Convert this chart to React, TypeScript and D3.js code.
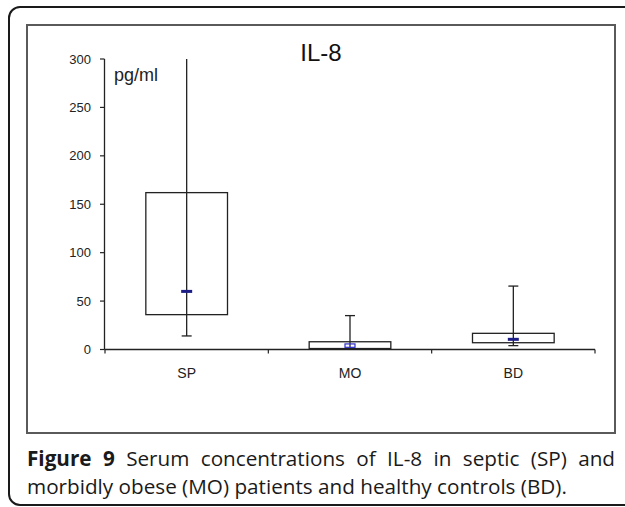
import React, { useEffect, useRef } from "react";
import * as d3 from "d3";

const categories = ["SP", "MO", "BD"];
const whiskerHigh = [300, 35, 65.5];
const boxHigh = [162, 8, 16.7];
const medians = [60, 4, 10.5];
const boxLow = [36, 1, 7];
const whiskerLow = [14, 0, 4];
const medianStyle = ["bar", "box", "bar"];
const yTicks = [0, 50, 100, 150, 200, 250, 300];
const chartTitle = "IL-8";
const unitLabel = "pg/ml";
const captionBold = "Figure 9";
const captionLine1 = " Serum concentrations of IL-8 in septic (SP) and";
const captionLine2 = "morbidly obese (MO) patients and healthy controls (BD).";

const W = 625;
const H = 507;
const axisFont = "'Liberation Sans', Arial, sans-serif";
const capFont = "'Open Sans', 'Noto Sans', sans-serif";

export default function App() {
  const l1 = useRef<SVGTextElement>(null);
  const l2 = useRef<SVGTextElement>(null);

  const y = d3.scaleLinear().domain([0, 300]).range([349.5, 59]);
  const x = d3.scaleBand<string>().domain(categories).range([105, 595]).padding(0);
  const bw = x.bandwidth();
  const boxW = bw * 0.5;
  const capW = 10;

  useEffect(() => {
    const t1 = l1.current;
    const t2 = l2.current;
    if (!t1 || !t2) return;
    const target2 = 540;
    const base = 17;
    t1.setAttribute("font-size", String(base));
    t2.setAttribute("font-size", String(base));
    const w2 = t2.getComputedTextLength();
    const fs = base * target2 / w2;
    t1.setAttribute("font-size", String(fs));
    t2.setAttribute("font-size", String(fs));
    t1.setAttribute("word-spacing", "0");
    const w1 = t1.getComputedTextLength();
    const spaces = (captionBold + captionLine1).split(" ").length - 1;
    const ws = (588 - w1) / spaces;
    t1.setAttribute("word-spacing", String(ws));
  }, []);

  return (
    <svg
      width={W}
      height={H}
      style={{ position: "absolute", left: 0, top: 0, background: "#fff" }}
    >
      <rect x={9} y={7} width={700} height={498} rx={11} ry={11} fill="#fff" stroke="#1a1a1a" strokeWidth={2} />
      <rect x={27} y={25} width={588} height={408} fill="#fff" stroke="#5a5a5a" strokeWidth={2} />

      <text x={321} y={60.5} textAnchor="middle" fontFamily={axisFont} fontSize={24} fill="#111">
        {chartTitle}
      </text>
      <text x={114} y={81} fontFamily={axisFont} fontSize={18} fill="#222">
        {unitLabel}
      </text>

      {/* y axis */}
      <line x1={104.5} x2={104.5} y1={y(300)} y2={y(0)} stroke="#222" strokeWidth={1.3} />
      {yTicks.map((t) => (
        <g key={t}>
          <line x1={100} x2={104.5} y1={y(t)} y2={y(t)} stroke="#222" strokeWidth={1.2} />
          <text x={91} y={y(t) + 4.5} textAnchor="end" fontFamily={axisFont} fontSize={13} fill="#222">
            {t}
          </text>
        </g>
      ))}

      {/* x axis */}
      <line x1={104.5} x2={595} y1={y(0)} y2={y(0)} stroke="#222" strokeWidth={1.3} />
      {[...categories.map((c) => x(c)!), 595].map((px, i) => (
        <line key={i} x1={px} x2={px} y1={y(0)} y2={y(0) + 4} stroke="#222" strokeWidth={1.2} />
      ))}
      {categories.map((c) => (
        <text
          key={c}
          x={x(c)! + bw / 2}
          y={378}
          textAnchor="middle"
          fontFamily={axisFont}
          fontSize={14}
          fill="#222"
        >
          {c}
        </text>
      ))}

      {/* boxes */}
      {categories.map((c, i) => {
        const cx = x(c)! + bw / 2;
        return (
          <g key={c}>
            <rect
              x={cx - boxW / 2}
              y={y(boxHigh[i])}
              width={boxW}
              height={y(boxLow[i]) - y(boxHigh[i])}
              fill="none"
              stroke="#222"
              strokeWidth={1.3}
            />
            <line x1={cx} x2={cx} y1={y(whiskerHigh[i])} y2={y(whiskerLow[i])} stroke="#222" strokeWidth={1.3} />
            {whiskerHigh[i] < 300 && (
              <line x1={cx - capW / 2} x2={cx + capW / 2} y1={y(whiskerHigh[i])} y2={y(whiskerHigh[i])} stroke="#222" strokeWidth={1.3} />
            )}
            {whiskerLow[i] > 0 && (
              <line x1={cx - capW / 2} x2={cx + capW / 2} y1={y(whiskerLow[i])} y2={y(whiskerLow[i])} stroke="#222" strokeWidth={1.3} />
            )}
            {medianStyle[i] === "bar" ? (
              <rect x={cx - 5.5} y={y(medians[i]) - 1.5} width={11} height={3} fill="#1c1c86" />
            ) : (
              <rect x={cx - 5} y={y(medians[i]) - 1.7} width={10} height={3.4} fill="none" stroke="#2f2fc8" strokeWidth={1.2} />
            )}
          </g>
        );
      })}

      {/* caption */}
      <text ref={l1} x={27} y={466} fontFamily={capFont} fontSize={17} fill="#1a1a1a">
        <tspan fontWeight="bold">{captionBold}</tspan>
        <tspan>{captionLine1}</tspan>
      </text>
      <text ref={l2} x={27} y={494} fontFamily={capFont} fontSize={17} fill="#1a1a1a">
        {captionLine2}
      </text>
    </svg>
  );
}
